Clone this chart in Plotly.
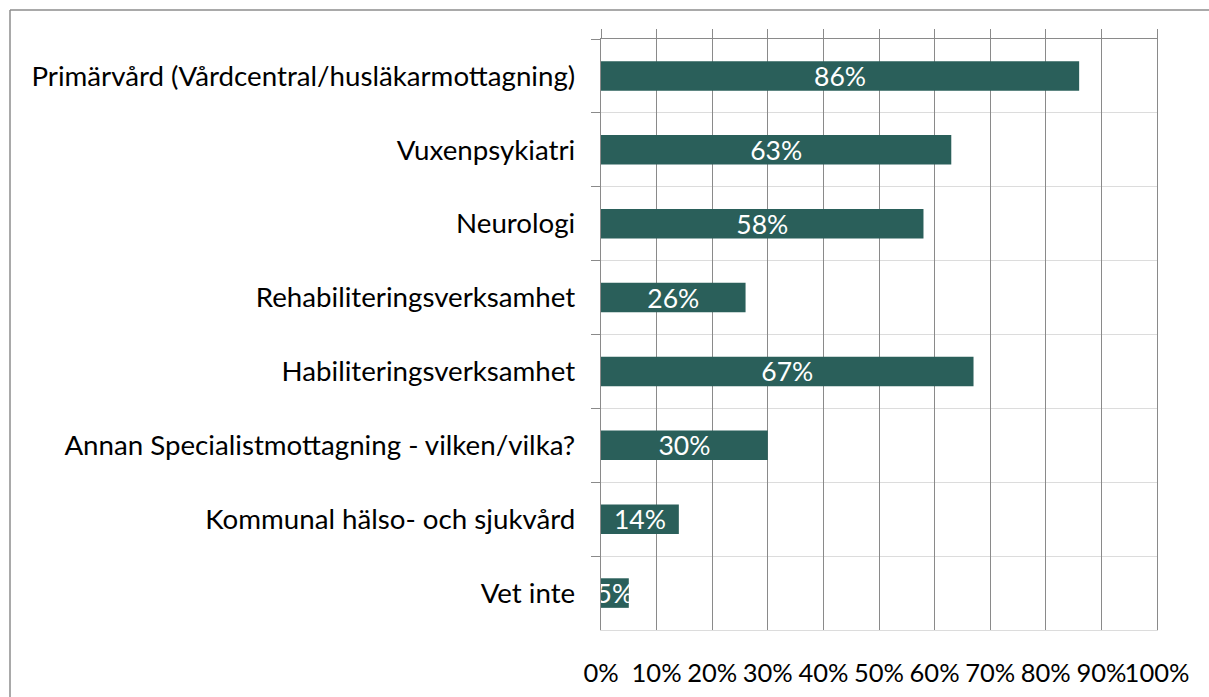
import plotly.graph_objects as go

categories = [
    "Primärvård (Vårdcentral/husläkarmottagning)",
    "Vuxenpsykiatri",
    "Neurologi",
    "Rehabiliteringsverksamhet",
    "Habiliteringsverksamhet",
    "Annan Specialistmottagning - vilken/vilka?",
    "Kommunal hälso- och sjukvård",
    "Vet inte",
]
values = [86, 63, 58, 26, 67, 30, 14, 5]
x_ticks = [0, 10, 20, 30, 40, 50, 60, 70, 80, 90, 100]
x_ticklabels = [f"{v}%" for v in x_ticks]

W, H = 1209, 697
L, R, T, B = 601, 52, 39, 67
pw, ph = W - L - R, H - T - B

FONT = "Lato"
BAR = "#2a5f5a"
GRID = "#8a8a8a"
LIGHT = "#dcdcdc"

fig = go.Figure()
fig.add_trace(go.Bar(
    x=values, y=categories, orientation="h",
    marker=dict(color=BAR, line=dict(width=0)),
    text=[f"{v}%" for v in values],
    textposition="inside", insidetextanchor="middle",
    constraintext="none", textangle=0,
    textfont=dict(family=FONT, size=26.5, color="white"),
    width=0.4, hoverinfo="skip",
))

# invisible trace to activate top axis
fig.add_trace(go.Scatter(x=[0], y=[categories[0]], xaxis="x2", mode="markers",
                         marker=dict(opacity=0), hoverinfo="skip", showlegend=False))

fig.update_layout(
    width=W, height=H,
    margin=dict(l=L, r=R, t=T, b=B, pad=0, autoexpand=False),
    paper_bgcolor="white", plot_bgcolor="white",
    showlegend=False,
    font=dict(family=FONT, size=26, color="#000000"),
    xaxis=dict(
        range=[0, 100], tickvals=x_ticks, ticktext=x_ticklabels,
        showgrid=True, gridcolor=GRID, gridwidth=1.4,
        zeroline=False, showline=True, linecolor=LIGHT, linewidth=1.4,
        ticks="", tickangle=0,
        tickfont=dict(family=FONT, size=25.5, color="#000000"),
        ticklabelstandoff=20, automargin=False,
    ),
    xaxis2=dict(
        range=[0, 100], tickvals=x_ticks, overlaying="x", side="top",
        showgrid=True, gridcolor=GRID, gridwidth=1.4,
        zeroline=False, showline=True, linecolor=GRID, linewidth=1.4,
        ticks="outside", ticklen=9, tickcolor=GRID, tickwidth=1.4,
        showticklabels=False,
    ),
    yaxis=dict(
        categoryorder="array", categoryarray=categories,
        autorange="reversed",
        showgrid=True, gridcolor=LIGHT, gridwidth=1.4,
        tickson="boundaries", ticks="outside", ticklen=9,
        tickcolor=GRID, tickwidth=1.4,
        showline=True, mirror=True, linecolor=GRID, linewidth=1.4,
        zeroline=False,
        tickfont=dict(family=FONT, size=27.7, color="#000000"),
        ticklabelstandoff=19, automargin=False,
    ),
)

# outer border (top and left visible in reference)
x0 = (10 - L) / pw
x1 = (W + 5 - L) / pw
y0 = 1 + (T - 10) / ph
y1 = -(B + 5) / ph
fig.add_shape(type="line", xref="paper", yref="paper", x0=x0, x1=x1, y0=y0, y1=y0,
              line=dict(color="#8c8c8c", width=1.5))
fig.add_shape(type="line", xref="paper", yref="paper", x0=x0, x1=x0, y0=y0, y1=y1,
              line=dict(color="#8c8c8c", width=1.5))

fig.write_html("out.html", config={"displayModeBar": False},
               post_script="document.body.style.margin='0';document.body.style.overflow='hidden';")
